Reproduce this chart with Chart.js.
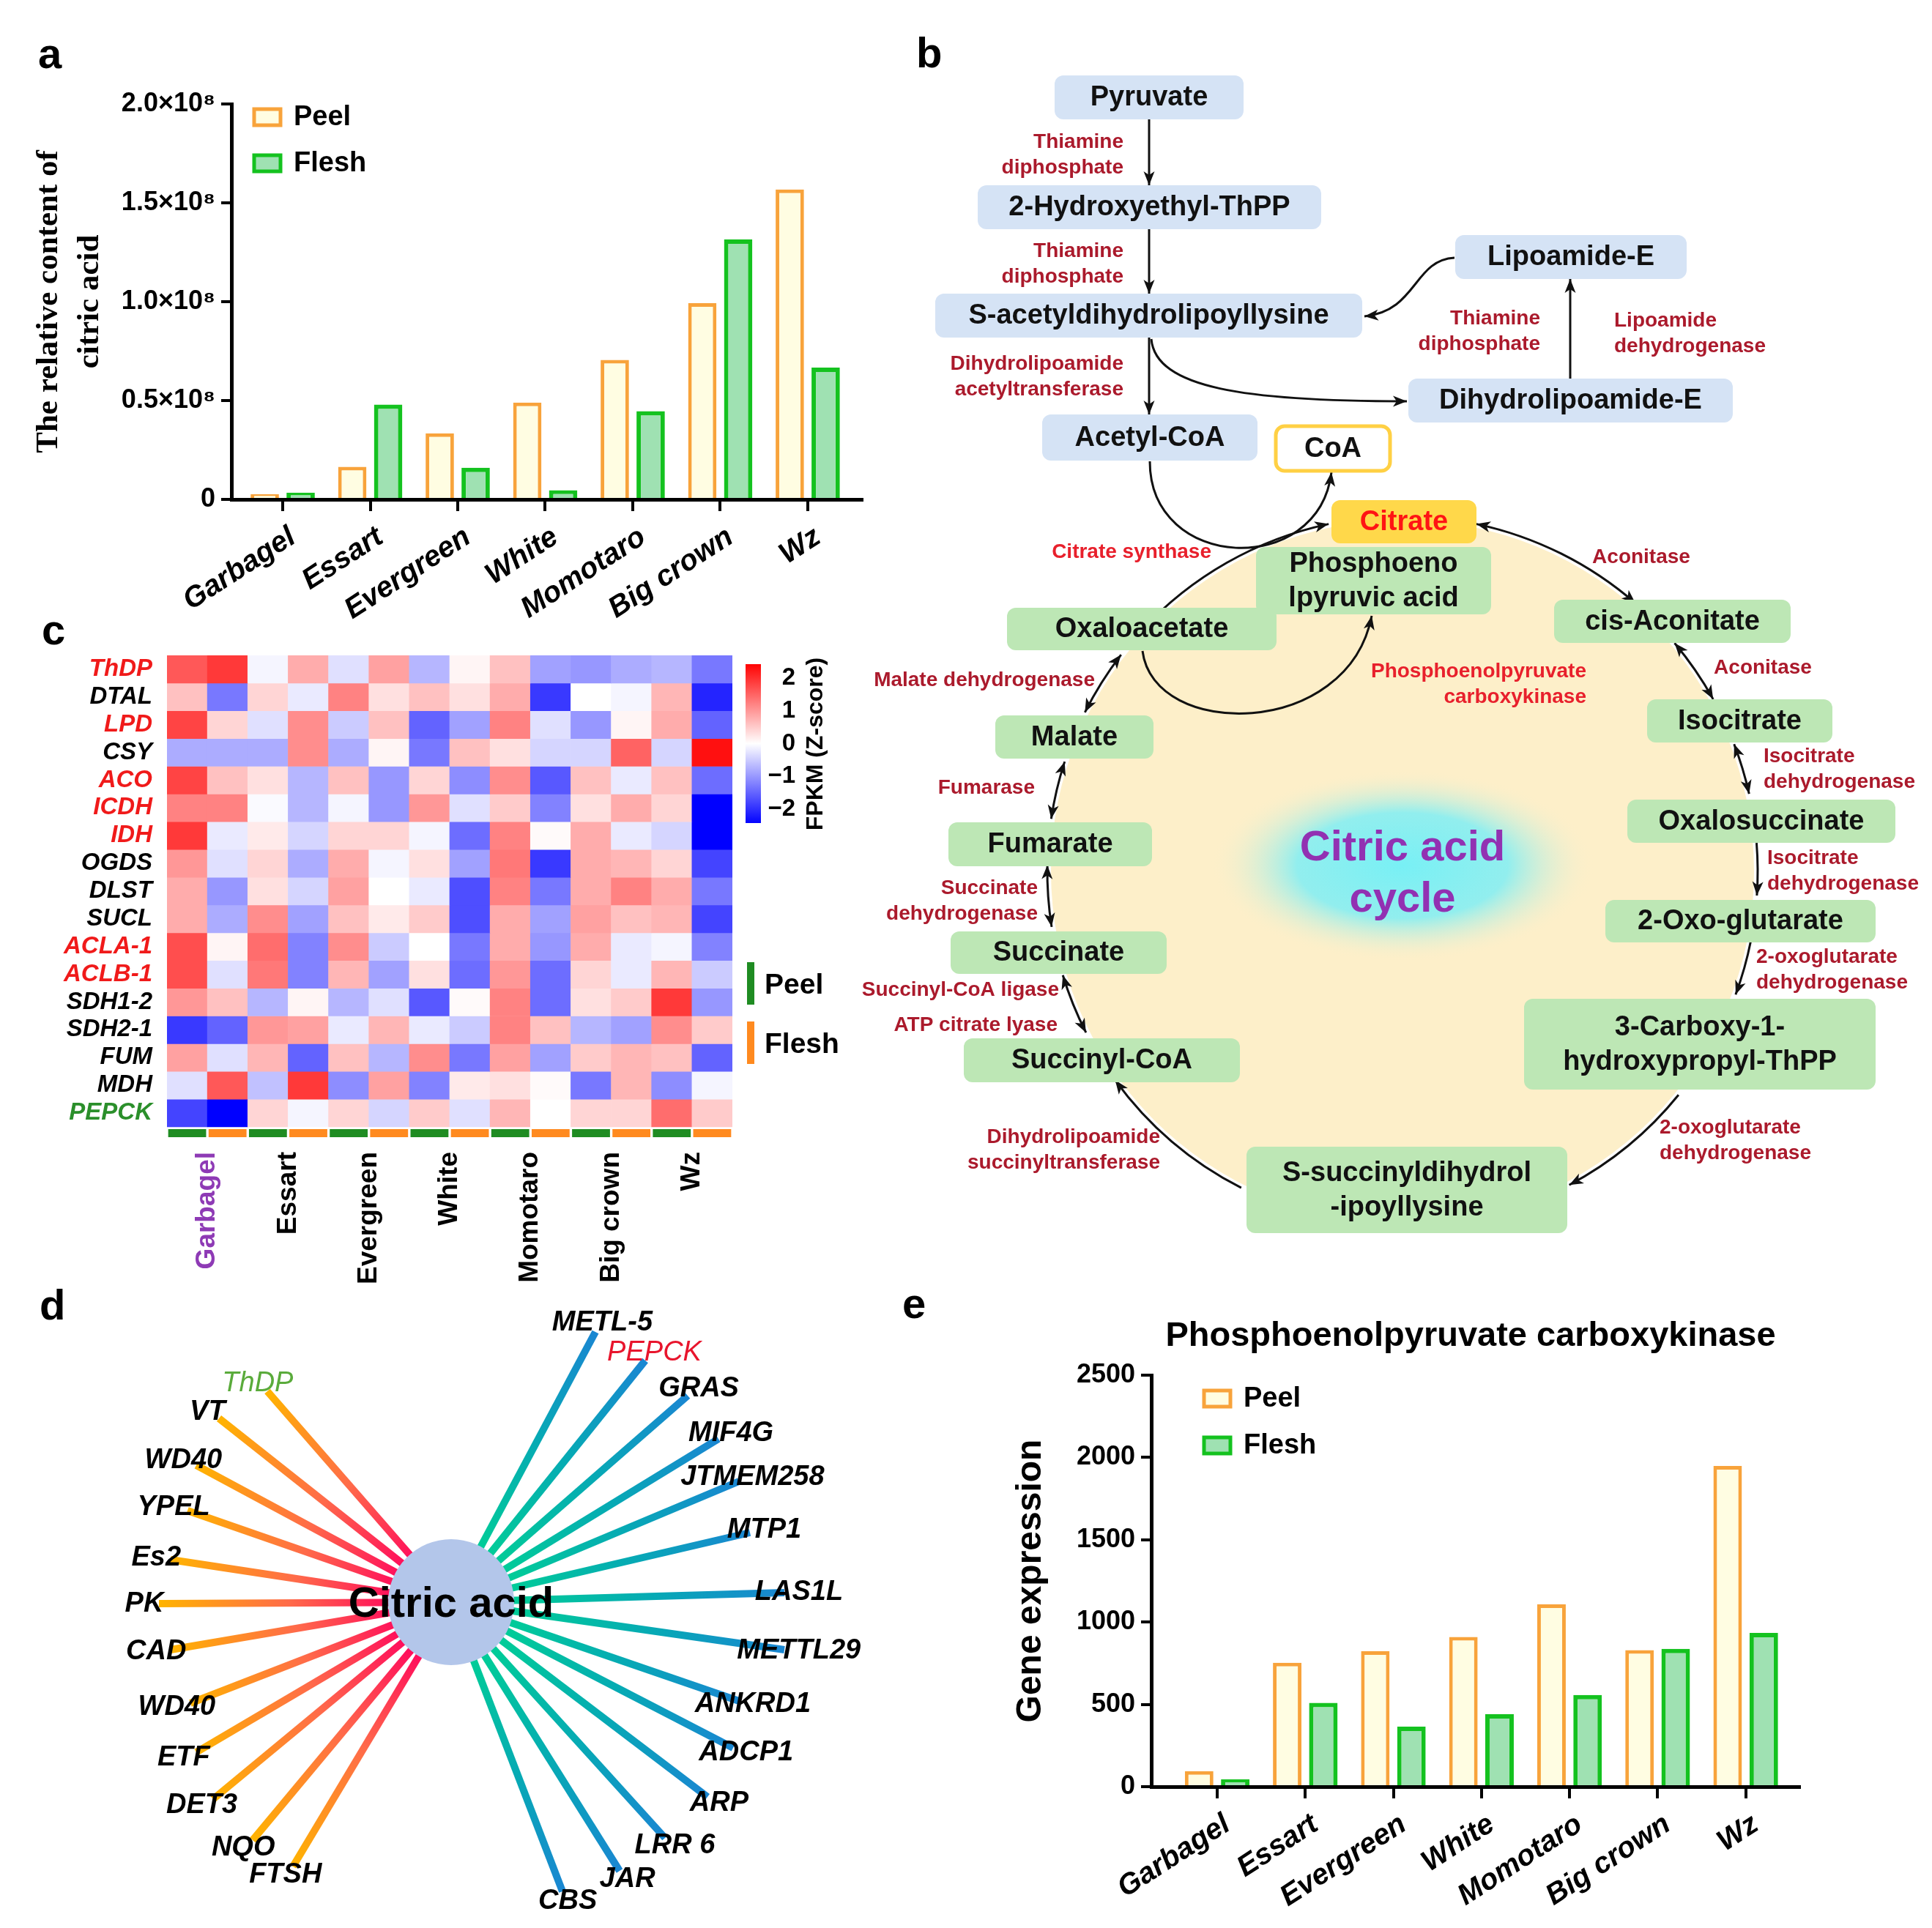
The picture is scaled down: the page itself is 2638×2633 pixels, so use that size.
<!DOCTYPE html>
<html>
<head>
<meta charset="utf-8">
<script src="https://cdn.jsdelivr.net/npm/chart.js@4.4.1/dist/chart.umd.min.js"></script>
<style>
  html, body { margin: 0; padding: 0; background: #fff; }
  body { width: 2638px; height: 2633px; position: relative; overflow: hidden; }
  canvas { position: absolute; }
</style>
</head>
<body>
<canvas id="chartA" width="1230" height="860" style="left:0;top:0"></canvas>
<canvas id="chartB" width="1488" height="1760" style="left:1150px;top:0"></canvas>
<canvas id="chartC" width="1230" height="920" style="left:0;top:840px"></canvas>
<canvas id="chartD" width="1230" height="873" style="left:0;top:1760px"></canvas>
<canvas id="chartE" width="1408" height="873" style="left:1230px;top:1760px"></canvas>
<script>
/* ---------- DATA ---------- */
const varieties = ["Garbagel", "Essart", "Evergreen", "White", "Momotaro", "Big crown", "Wz"];
const tissues = ["Peel", "Flesh"];

// a: relative content of citric acid
const citricPeel = [0.026e8, 0.165e8, 0.334e8, 0.49e8, 0.706e8, 0.993e8, 1.568e8];
const citricFlesh = [0.034e8, 0.48e8, 0.16e8, 0.046e8, 0.446e8, 1.315e8, 0.667e8];
const citricTicks = [0, 0.5e8, 1.0e8, 1.5e8, 2.0e8];
const citricTickLabels = ["0", "0.5×10⁸", "1.0×10⁸", "1.5×10⁸", "2.0×10⁸"];

// e: phosphoenolpyruvate carboxykinase expression
const pepckPeel = [94, 753, 823, 910, 1108, 830, 1948];
const pepckFlesh = [45, 509, 365, 440, 557, 837, 934];
const pepckTicks = [0, 500, 1000, 1500, 2000, 2500];

// c: FPKM z-scores, columns = variety x (peel, flesh)
const heatGenes = ["ThDP", "DTAL", "LPD", "CSY", "ACO", "ICDH", "IDH", "OGDS", "DLST", "SUCL",
  "ACLA-1", "ACLB-1", "SDH1-2", "SDH2-1", "FUM", "MDH", "PEPCK"];
const heatZ = [
  [1.6, 1.9, -0.1, 0.8, -0.3, 0.9, -0.7, 0.1, 0.6, -0.9, -1.0, -0.8, -0.7, -1.3],
  [0.6, -1.3, 0.4, -0.2, 1.2, 0.3, 0.6, 0.3, 0.8, -1.9, 0.0, -0.1, 0.7, -2.1],
  [1.8, 0.4, -0.3, 1.1, -0.5, 0.6, -1.5, -0.9, 1.2, -0.3, -1.0, 0.1, 0.8, -1.5],
  [-0.8, -0.8, -0.8, 1.1, -0.8, 0.1, -1.3, 0.6, 0.3, -0.4, -0.4, 1.5, -0.4, 2.3],
  [1.8, 0.6, 0.3, -0.7, 0.6, -1.0, 0.4, -1.1, 1.1, -1.6, 0.6, -0.2, 0.6, -1.4],
  [1.2, 1.2, -0.05, -0.7, -0.1, -1.0, 1.0, -0.3, 0.5, -1.2, 0.3, 0.8, 0.4, -2.5],
  [1.9, -0.2, 0.2, -0.4, 0.4, 0.4, -0.1, -1.4, 1.2, 0.05, 0.8, -0.2, -0.4, -2.5],
  [1.0, -0.3, 0.4, -0.8, 0.8, -0.1, 0.3, -0.9, 1.3, -1.9, 0.8, 0.7, 0.4, -1.8],
  [0.8, -1.0, 0.3, -0.4, 0.9, 0.0, -0.2, -1.7, 1.2, -1.3, 0.8, 1.2, 0.8, -1.3],
  [0.8, -0.8, 1.1, -0.9, 0.6, 0.2, 0.5, -1.7, 0.8, -0.9, 0.9, 0.6, 0.7, -1.8],
  [1.7, 0.1, 1.4, -1.2, 1.1, -0.5, 0.0, -1.3, 0.8, -1.0, 0.8, -0.2, -0.1, -1.2],
  [1.7, -0.3, 1.3, -1.2, 0.7, -0.9, 0.3, -1.4, 1.0, -1.4, 0.4, -0.2, 0.7, -0.5],
  [1.0, 0.6, -0.7, 0.1, -0.7, -0.3, -1.6, 0.05, 1.2, -1.4, 0.3, 0.5, 1.9, -1.0],
  [-1.9, -1.5, 1.0, 0.9, -0.2, 0.7, -0.2, -0.5, 1.2, 0.6, -0.7, -0.9, 1.1, 0.5],
  [0.9, -0.3, 0.7, -1.5, 0.6, -0.7, 1.1, -1.3, 0.9, -0.9, 0.5, 0.7, 0.6, -1.5],
  [-0.3, 1.6, -0.6, 1.9, -1.1, 0.9, -1.2, 0.2, 0.3, 0.05, -1.3, 0.7, -1.1, -0.1],
  [-1.8, -2.5, 0.4, -0.1, 0.4, -0.4, 0.5, -0.3, 0.7, 0.0, 0.4, 0.4, 1.4, 0.5]
];
const colorbarTicks = [2, 1, 0, -1, -2];

// d: genes linked to citric acid (node offsets from the hub)
const leftGenes = ["ThDP", "VT", "WD40", "YPEL", "Es2", "PK", "CAD", "WD40", "ETF", "DET3", "NQO", "FTSH"];
const leftX = [-251, -317, -348, -360, -383, -399, -383, -356, -348, -325, -271, -216];
const leftY = [-288, -251, -187, -125, -58, 2, 65, 138, 205, 269, 325, 361];
const rightGenes = ["METL-5", "PEPCK", "GRAS", "MIF4G", "JTMEM258", "MTP1", "LAS1L", "METTL29",
  "ANKRD1", "ADCP1", "ARP", "LRR 6", "JAR", "CBS"];
const rightX = [197, 265, 323, 365, 393, 408, 455, 455, 393, 385, 350, 292, 230, 152];
const rightY = [-369, -330, -282, -223, -165, -95, -13, 65, 135, 199, 266, 322, 367, 395];

/* ---------- STYLE ---------- */
const SANS = "'Liberation Sans', Arial, sans-serif";
const SERIF = "'Liberation Serif', 'Times New Roman', serif";
const PEEL_FILL = "#fffde2", PEEL_EDGE = "#f8a33b";
const FLESH_FILL = "#9fe1b2", FLESH_EDGE = "#14c21f";
const TAG_GREEN = "#1f8c22", TAG_ORANGE = "#ff8a1f";
const heatLabelColor = { ThDP: "#f01a1a", LPD: "#f01a1a", ACO: "#f01a1a", ICDH: "#f01a1a", IDH: "#f01a1a",
  "ACLA-1": "#f01a1a", "ACLB-1": "#f01a1a", PEPCK: "#2b8f2b" };
const netLabelColor = { ThDP: "#5aab3b", PEPCK: "#e8152d" };

Chart.defaults.font.family = SANS;
Chart.defaults.color = "#000";
Chart.defaults.animation = false;
Chart.defaults.plugins.legend.display = false;
Chart.defaults.plugins.tooltip.enabled = false;

function letterPlugin(letter, x, y) {
  return {
    id: "letter",
    afterDraw(chart) {
      const c = chart.ctx;
      c.save();
      c.font = "bold 58px " + SANS;
      c.fillStyle = "#000";
      c.textAlign = "left";
      c.textBaseline = "alphabetic";
      c.fillText(letter, x, y);
      c.restore();
    }
  };
}

/* ---------- BAR PANELS (a, e) ---------- */
function barLegend(x, yFirst, gap) {
  return {
    id: "barLegend",
    afterDraw(chart) {
      const c = chart.ctx;
      c.save();
      chart.data.datasets.forEach((ds, i) => {
        const y = yFirst + i * gap;
        c.fillStyle = ds.backgroundColor;
        c.fillRect(x, y - 11, 36, 22);
        c.strokeStyle = ds.borderColor;
        c.lineWidth = 5;
        c.strokeRect(x, y - 11, 36, 22);
        c.fillStyle = "#000";
        c.font = "bold 38px " + SANS;
        c.textBaseline = "middle";
        c.fillText(ds.label, x + 54, y + 1);
      });
      c.restore();
    }
  };
}

function groupedBars(id, peel, flesh, frame, plugins) {
  const canvas = document.getElementById(id);
  return new Chart(canvas, {
    type: "bar",
    data: {
      datasets: [
        { label: tissues[0], data: peel.map((v, i) => ({ x: i, y: v })), backgroundColor: PEEL_FILL,
          borderColor: PEEL_EDGE, borderWidth: 5, barPercentage: 0.79, categoryPercentage: 0.82 },
        { label: tissues[1], data: flesh.map((v, i) => ({ x: i, y: v })), backgroundColor: FLESH_FILL,
          borderColor: FLESH_EDGE, borderWidth: 6, barPercentage: 0.79, categoryPercentage: 0.82 }
      ]
    },
    options: {
      responsive: false,
      devicePixelRatio: 1,
      layout: { padding: { top: frame.top, right: canvas.width - frame.right, left: 0, bottom: 0 } },
      scales: {
        x: {
          type: "linear", bounds: "data", min: frame.xMin, max: frame.xMax, offset: false,
          afterBuildTicks: (s) => { s.ticks = varieties.map((_, i) => ({ value: i })); },
          afterFit: (s) => { s.height = canvas.height - frame.bottom; },
          ticks: { autoSkip: false, minRotation: 33, maxRotation: 33, padding: 12, labelOffset: 14,
            font: { size: 40, weight: "bold", style: "italic" }, callback: (v) => varieties[v] },
          grid: { offset: false, drawOnChartArea: false, color: "#000", lineWidth: 4, tickLength: 16 },
          border: { color: "#000", width: 5 }
        },
        y: {
          bounds: "data", min: 0, max: frame.yTicks[frame.yTicks.length - 1],
          afterBuildTicks: (s) => { s.ticks = frame.yTicks.map((v) => ({ value: v })); },
          afterFit: (s) => { s.width = frame.left; },
          ticks: { padding: 8, font: { size: 36, weight: "bold" }, callback: (v, i) => frame.yLabels[i] },
          grid: { drawOnChartArea: false, color: "#000", lineWidth: 4, tickLength: 14 },
          border: { color: "#000", width: 5 },
          title: { display: true, text: frame.title, font: frame.titleFont, padding: { top: frame.titlePad } }
        }
      }
    },
    plugins: plugins
  });
}

groupedBars("chartA", citricPeel, citricFlesh, {
  left: 316, top: 142, right: 1177, bottom: 682, xMin: -0.586, xMax: 6.62,
  yTicks: citricTicks, yLabels: citricTickLabels,
  title: ["The relative content of", "citric acid"],
  titleFont: { family: SERIF, size: 43, weight: "bold", lineHeight: 1.3 }, titlePad: 39
}, [barLegend(347, 160, 63), letterPlugin("a", 52, 93)]);

const pepckTitle = {
  id: "pepckTitle",
  afterDraw(chart) {
    const c = chart.ctx;
    c.save();
    c.font = "bold 47px " + SANS;
    c.textAlign = "center";
    c.textBaseline = "middle";
    c.fillText("Phosphoenolpyruvate carboxykinase", 778, 65);
    c.restore();
  }
};

groupedBars("chartE", pepckPeel, pepckFlesh, {
  left: 342, top: 118, right: 1227, bottom: 680, xMin: -0.748, xMax: 6.61,
  yTicks: pepckTicks, yLabels: pepckTicks.map(String),
  title: "Gene expression", titleFont: { size: 48, weight: "bold" }, titlePad: 149
}, [barLegend(414, 150, 64), pepckTitle, letterPlugin("e", 2, 40)]);

/* ---------- HEATMAP (c) ---------- */
function zColor(z) {
  const t = Math.max(-1, Math.min(1, z / 2.45));
  if (t >= 0) {
    const g = Math.round(255 * (1 - t));
    return `rgb(255,${g},${g})`;
  }
  const g = Math.round(255 * (1 + t));
  return `rgb(${g},${g},255)`;
}

const nRows = heatGenes.length;
const heatDatasets = heatGenes.map((gene, r) => ({
  label: gene,
  data: heatZ[r].map((z, c) => ({ x: c, y: [nRows - 1 - r, nRows - r] })),
  backgroundColor: heatZ[r].map(zColor),
  borderWidth: 0, grouped: false, barPercentage: 1, categoryPercentage: 1
}));
heatDatasets.push({
  label: "tissue",
  data: heatZ[0].map((_, c) => ({ x: c, y: [-0.37, -0.08] })),
  backgroundColor: heatZ[0].map((_, c) => (c % 2 === 0 ? TAG_GREEN : TAG_ORANGE)),
  borderColor: "#fff", borderWidth: { left: 2, right: 2, top: 0, bottom: 0 }, borderSkipped: false,
  grouped: false, barPercentage: 1, categoryPercentage: 1
});

const heatExtras = {
  id: "heatExtras",
  afterDraw(chart) {
    const c = chart.ctx;
    c.save();
    // colour bar
    const top = 67, bottom = 284, x0 = 1018, w = 21;
    const grad = c.createLinearGradient(0, top, 0, bottom);
    [2.42, 1.2, 0, -1.2, -2.42].forEach((z, i) => grad.addColorStop(i / 4, zColor(z)));
    c.fillStyle = grad;
    c.fillRect(x0, top, w, bottom - top);
    c.fillStyle = "#000";
    c.font = "bold 33px " + SANS;
    c.textAlign = "right";
    c.textBaseline = "middle";
    colorbarTicks.forEach((v) => {
      const y = top + (2.42 - v) / 4.84 * (bottom - top);
      c.fillText(v < 0 ? "\u2212" + Math.abs(v) : String(v), 1086, y);
    });
    c.save();
    c.translate(1114, 176);
    c.rotate(-Math.PI / 2);
    c.textAlign = "center";
    c.font = "bold 32px " + SANS;
    c.fillText("FPKM (Z-score)", 0, 0);
    c.restore();
    // tissue key
    c.textAlign = "left";
    c.font = "bold 39px " + SANS;
    [[tissues[0], TAG_GREEN, 474], [tissues[1], TAG_ORANGE, 555]].forEach(([name, col, y]) => {
      c.fillStyle = col;
      c.fillRect(1020, y, 10, 58);
      c.fillStyle = "#000";
      c.fillText(name, 1044, y + 32);
    });
    c.restore();
  }
};

new Chart(document.getElementById("chartC"), {
  type: "bar",
  data: { datasets: heatDatasets },
  options: {
    responsive: false,
    devicePixelRatio: 1,
    layout: { padding: { top: 55, right: 230, left: 0, bottom: 0 } },
    scales: {
      x: {
        type: "linear", bounds: "data", min: -0.5, max: 13.5, offset: false,
        afterBuildTicks: (s) => { s.ticks = varieties.map((_, i) => ({ value: 2 * i + 0.5 })); },
        afterFit: (s) => { s.height = 207; },
        ticks: {
          autoSkip: false, minRotation: 90, maxRotation: 90, padding: 20,
          font: { size: 37, weight: "bold" },
          color: (ctx) => (ctx.index === 0 ? "#8e3ab5" : "#000"),
          callback: (v) => varieties[Math.round((v - 0.5) / 2)]
        },
        grid: { display: false, drawTicks: false },
        border: { display: false }
      },
      y: {
        bounds: "data", min: -0.37, max: nRows,
        afterBuildTicks: (s) => { s.ticks = heatGenes.map((_, r) => ({ value: nRows - 0.5 - r })); },
        afterFit: (s) => { s.width = 228; },
        ticks: {
          autoSkip: false, padding: 20,
          font: { size: 33, weight: "bold", style: "italic" },
          color: (ctx) => heatLabelColor[heatGenes[ctx.index]] || "#000",
          callback: (v, i) => heatGenes[i]
        },
        grid: { display: false, drawTicks: false },
        border: { display: false }
      }
    }
  },
  plugins: [heatExtras, letterPlugin("c", 57, 40)]
});

/* ---------- NETWORK (d) ---------- */
const spokes = leftGenes.map((g, i) => ({ name: g, x: leftX[i], y: leftY[i], side: "L" }))
  .concat(rightGenes.map((g, i) => ({ name: g, x: rightX[i], y: rightY[i], side: "R" })));

function spokeColor(ctx) {
  const chart = ctx.chart;
  const s = spokes[ctx.datasetIndex];
  if (!chart.chartArea || !s) return "#f90";
  const { x, y } = chart.scales;
  const g = chart.ctx.createLinearGradient(x.getPixelForValue(0), y.getPixelForValue(0),
    x.getPixelForValue(s.x), y.getPixelForValue(s.y));
  if (s.side === "L") {
    g.addColorStop(0.2, "#ff0d5c");
    g.addColorStop(0.55, "#ff6a4a");
    g.addColorStop(1, "#ffb400");
  } else {
    g.addColorStop(0.2, "#00cc98");
    g.addColorStop(0.6, "#06aab4");
    g.addColorStop(1, "#1a86d2");
  }
  return g;
}

const spokeSets = spokes.map((s) => ({
  type: "scatter",
  showLine: true,
  data: [{ x: 0, y: 0 }, { x: s.x, y: s.y }],
  borderColor: spokeColor,
  borderWidth: 10,
  borderCapStyle: "butt",
  pointRadius: 0
}));
spokeSets.push({
  type: "scatter", data: [{ x: 0, y: 0 }], order: -1,
  pointRadius: 86, pointBackgroundColor: "#b3c6ea", pointBorderWidth: 0
});

const networkText = {
  id: "networkText",
  afterDatasetsDraw(chart) {
    const { ctx, scales: { x, y } } = chart;
    ctx.save();
    ctx.textAlign = "center";
    ctx.textBaseline = "middle";
    spokes.forEach((s) => {
      const len = Math.hypot(s.x, s.y);
      const lx = x.getPixelForValue(s.x + (s.x / len) * 20);
      const ly = y.getPixelForValue(s.y + (s.y / len) * 14);
      const special = netLabelColor[s.name];
      ctx.font = (special ? "italic " : "italic bold ") + "38px " + SANS;
      ctx.fillStyle = special || "#000";
      ctx.fillText(s.name, lx, ly);
    });
    ctx.font = "bold 58px " + SANS;
    ctx.fillStyle = "#000";
    ctx.fillText("Citric acid", x.getPixelForValue(0), y.getPixelForValue(4));
    ctx.restore();
  }
};

new Chart(document.getElementById("chartD"), {
  type: "scatter",
  data: { datasets: spokeSets },
  options: {
    responsive: false,
    devicePixelRatio: 1,
    layout: { padding: 0, autoPadding: false },
    scales: {
      x: { type: "linear", bounds: "data", min: -616, max: 614, display: false },
      y: { type: "linear", bounds: "data", min: -428, max: 445, reverse: true, display: false }
    }
  },
  plugins: [networkText, letterPlugin("d", 54, 42)]
});

/* ---------- PATHWAY (b) ---------- */
const BLUE = "#d5e3f5", GREEN = "#bde7b5", GOLD = "#ffd84a";
const DARK_RED = "#ab1a2c", BRIGHT_RED = "#e8202c";
const pathNodes = [
  { t: "Pyruvate", x0: 1440, y0: 103, x1: 1698, y1: 163, fill: BLUE },
  { t: "2-Hydroxyethyl-ThPP", x0: 1335, y0: 253, x1: 1804, y1: 313, fill: BLUE },
  { t: "S-acetyldihydrolipoyllysine", x0: 1277, y0: 401, x1: 1860, y1: 461, fill: BLUE },
  { t: "Acetyl-CoA", x0: 1423, y0: 566, x1: 1717, y1: 629, fill: BLUE },
  { t: "Lipoamide-E", x0: 1987, y0: 321, x1: 2303, y1: 381, fill: BLUE },
  { t: "Dihydrolipoamide-E", x0: 1923, y0: 517, x1: 2366, y1: 577, fill: BLUE },
  { t: "CoA", x0: 1742, y0: 582, x1: 1898, y1: 643, fill: "#fff", edge: "#ffd044" },
  { t: "Phosphoeno\nlpyruvic acid", x0: 1715, y0: 747, x1: 2036, y1: 839, fill: GREEN },
  { t: "Citrate", x0: 1818, y0: 683, x1: 2016, y1: 742, fill: GOLD, color: "#ff1414" },
  { t: "Oxaloacetate", x0: 1375, y0: 830, x1: 1743, y1: 888, fill: GREEN },
  { t: "cis-Aconitate", x0: 2122, y0: 819, x1: 2445, y1: 878, fill: GREEN },
  { t: "Malate", x0: 1359, y0: 977, x1: 1575, y1: 1036, fill: GREEN },
  { t: "Isocitrate", x0: 2249, y0: 955, x1: 2502, y1: 1014, fill: GREEN },
  { t: "Oxalosuccinate", x0: 2222, y0: 1092, x1: 2588, y1: 1151, fill: GREEN },
  { t: "Fumarate", x0: 1295, y0: 1123, x1: 1573, y1: 1183, fill: GREEN },
  { t: "2-Oxo-glutarate", x0: 2192, y0: 1229, x1: 2561, y1: 1287, fill: GREEN },
  { t: "Succinate", x0: 1298, y0: 1272, x1: 1593, y1: 1330, fill: GREEN },
  { t: "Succinyl-CoA", x0: 1316, y0: 1418, x1: 1693, y1: 1478, fill: GREEN },
  { t: "3-Carboxy-1-\nhydroxypropyl-ThPP", x0: 2081, y0: 1364, x1: 2561, y1: 1488, fill: GREEN },
  { t: "S-succinyldihydrol\n-ipoyllysine", x0: 1702, y0: 1566, x1: 2140, y1: 1684, fill: GREEN }
];
const pathLabels = [
  { l: ["Thiamine", "diphosphate"], x: 1534, y: 194, a: "right" },
  { l: ["Thiamine", "diphosphate"], x: 1534, y: 343, a: "right" },
  { l: ["Dihydrolipoamide", "acetyltransferase"], x: 1534, y: 497, a: "right" },
  { l: ["Thiamine", "diphosphate"], x: 2103, y: 435, a: "right" },
  { l: ["Lipoamide", "dehydrogenase"], x: 2204, y: 438, a: "left" },
  { l: ["Citrate synthase"], x: 1654, y: 754, a: "right", c: BRIGHT_RED },
  { l: ["Aconitase"], x: 2241, y: 761, a: "center" },
  { l: ["Aconitase"], x: 2407, y: 912, a: "center" },
  { l: ["Phosphoenolpyruvate", "carboxykinase"], x: 2166, y: 917, a: "right", c: BRIGHT_RED },
  { l: ["Malate dehydrogenase"], x: 1495, y: 929, a: "right" },
  { l: ["Isocitrate", "dehydrogenase"], x: 2408, y: 1033, a: "left" },
  { l: ["Isocitrate", "dehydrogenase"], x: 2413, y: 1172, a: "left" },
  { l: ["Fumarase"], x: 1413, y: 1076, a: "right" },
  { l: ["2-oxoglutarate", "dehydrogenase"], x: 2398, y: 1307, a: "left" },
  { l: ["Succinate", "dehydrogenase"], x: 1417, y: 1213, a: "right" },
  { l: ["Succinyl-CoA ligase"], x: 1446, y: 1352, a: "right" },
  { l: ["ATP citrate lyase"], x: 1444, y: 1400, a: "right" },
  { l: ["2-oxoglutarate", "dehydrogenase"], x: 2266, y: 1540, a: "left" },
  { l: ["Dihydrolipoamide", "succinyltransferase"], x: 1584, y: 1553, a: "right" }
];
const CYCLE = { cx: 1915, cy: 1190, r: 480, arcR: 485 };
// [from angle, to angle, arrow at start, arrow at end], screen degrees
const cycleArcs = [
  [-78, -49, true, true], [-40, -29, true, true], [-21, -12.6, true, true], [-4.6, 3.9, false, true],
  [11.3, 20.3, false, true], [39, 62, false, true], [117, 144, false, true], [153, 163, true, true],
  [171, 181, true, true], [188.5, 198, true, true], [206.6, 217.6, true, true], [222.7, 258, true, true]
];
const straightArrows = [[1569, 163, 1569, 253], [1569, 313, 1569, 401], [1569, 461, 1569, 566], [2144, 517, 2144, 381]];
const curvedArrows = [
  [1572, 463, 1578, 530, 1700, 548, 1921, 548],
  [1986, 352, 1930, 355, 1935, 425, 1863, 432],
  [1570, 630, 1570, 780, 1800, 790, 1818, 645],
  [1560, 889, 1575, 1010, 1840, 1010, 1873, 841]
];

function arrowHead(c, x, y, ang) {
  c.save();
  c.translate(x, y);
  c.rotate(ang);
  c.beginPath();
  c.moveTo(0, 0);
  c.lineTo(-19, -7.5);
  c.lineTo(-14, 0);
  c.lineTo(-19, 7.5);
  c.closePath();
  c.fill();
  c.restore();
}

function roundBox(c, x0, y0, x1, y1, r) {
  c.beginPath();
  c.moveTo(x0 + r, y0);
  c.arcTo(x1, y0, x1, y1, r);
  c.arcTo(x1, y1, x0, y1, r);
  c.arcTo(x0, y1, x0, y0, r);
  c.arcTo(x0, y0, x1, y0, r);
  c.closePath();
}

const pathway = {
  id: "pathway",
  afterDraw(chart) {
    const c = chart.ctx;
    const X = (v) => chart.scales.x.getPixelForValue(v);
    const Y = (v) => chart.scales.y.getPixelForValue(v);
    const cx = X(CYCLE.cx), cy = Y(CYCLE.cy);
    c.save();
    // cycle disc
    c.fillStyle = "#fdefc9";
    c.beginPath();
    c.arc(cx, cy, CYCLE.r, 0, Math.PI * 2);
    c.fill();
    // glow behind the title
    c.save();
    c.translate(cx, Y(1182));
    c.scale(1, 0.5);
    const glow = c.createRadialGradient(0, 0, 0, 0, 0, 262);
    glow.addColorStop(0, "rgba(120,240,245,1)");
    glow.addColorStop(0.55, "rgba(140,238,240,0.95)");
    glow.addColorStop(1, "rgba(253,239,201,0)");
    c.fillStyle = glow;
    c.beginPath();
    c.arc(0, 0, 262, 0, Math.PI * 2);
    c.fill();
    c.restore();
    c.fillStyle = "#9231b2";
    c.font = "bold 58px " + SANS;
    c.textAlign = "center";
    c.textBaseline = "middle";
    c.fillText("Citric acid", cx, Y(1159));
    c.fillText("cycle", cx, Y(1229));

    // arrows
    c.strokeStyle = "#111";
    c.fillStyle = "#111";
    c.lineWidth = 3;
    cycleArcs.forEach(([a0, a1, hs, he]) => {
      const d0 = a0 * Math.PI / 180, d1 = a1 * Math.PI / 180, r = CYCLE.arcR;
      c.beginPath();
      c.arc(cx, cy, r, d0, d1, false);
      c.stroke();
      if (he) arrowHead(c, cx + r * Math.cos(d1), cy + r * Math.sin(d1), d1 + Math.PI / 2);
      if (hs) arrowHead(c, cx + r * Math.cos(d0), cy + r * Math.sin(d0), d0 - Math.PI / 2);
    });
    straightArrows.forEach(([x0, y0, x1, y1]) => {
      c.beginPath();
      c.moveTo(X(x0), Y(y0));
      c.lineTo(X(x1), Y(y1));
      c.stroke();
      arrowHead(c, X(x1), Y(y1), Math.atan2(y1 - y0, x1 - x0));
    });
    curvedArrows.forEach(([x0, y0, ax, ay, bx, by, x1, y1]) => {
      c.beginPath();
      c.moveTo(X(x0), Y(y0));
      c.bezierCurveTo(X(ax), Y(ay), X(bx), Y(by), X(x1), Y(y1));
      c.stroke();
      arrowHead(c, X(x1), Y(y1), Math.atan2(y1 - by, x1 - bx));
    });

    // nodes
    pathNodes.forEach((n) => {
      roundBox(c, X(n.x0), Y(n.y0), X(n.x1), Y(n.y1), 12);
      c.fillStyle = n.fill;
      c.fill();
      if (n.edge) {
        c.strokeStyle = n.edge;
        c.lineWidth = 5;
        c.stroke();
      }
      c.fillStyle = n.color || "#111";
      c.font = "bold 38px " + SANS;
      const lines = n.t.split("\n");
      const mid = (Y(n.y0) + Y(n.y1)) / 2;
      lines.forEach((s, i) => {
        c.fillText(s, (X(n.x0) + X(n.x1)) / 2, mid + (i - (lines.length - 1) / 2) * 47 + 1);
      });
    });

    // enzyme labels
    c.font = "bold 28px " + SANS;
    pathLabels.forEach((lab) => {
      c.fillStyle = lab.c || DARK_RED;
      c.textAlign = lab.a;
      lab.l.forEach((s, i) => c.fillText(s, X(lab.x), Y(lab.y + i * 35)));
    });
    c.restore();
  }
};

new Chart(document.getElementById("chartB"), {
  type: "scatter",
  data: {
    datasets: [{
      data: pathNodes.map((n) => ({ x: (n.x0 + n.x1) / 2, y: (n.y0 + n.y1) / 2 })),
      pointRadius: 0
    }]
  },
  options: {
    responsive: false,
    devicePixelRatio: 1,
    layout: { padding: 0, autoPadding: false },
    scales: {
      x: { type: "linear", bounds: "data", min: 1150, max: 2638, display: false },
      y: { type: "linear", bounds: "data", min: 0, max: 1760, reverse: true, display: false }
    }
  },
  plugins: [pathway, letterPlugin("b", 101, 92)]
});
</script>
</body>
</html>
